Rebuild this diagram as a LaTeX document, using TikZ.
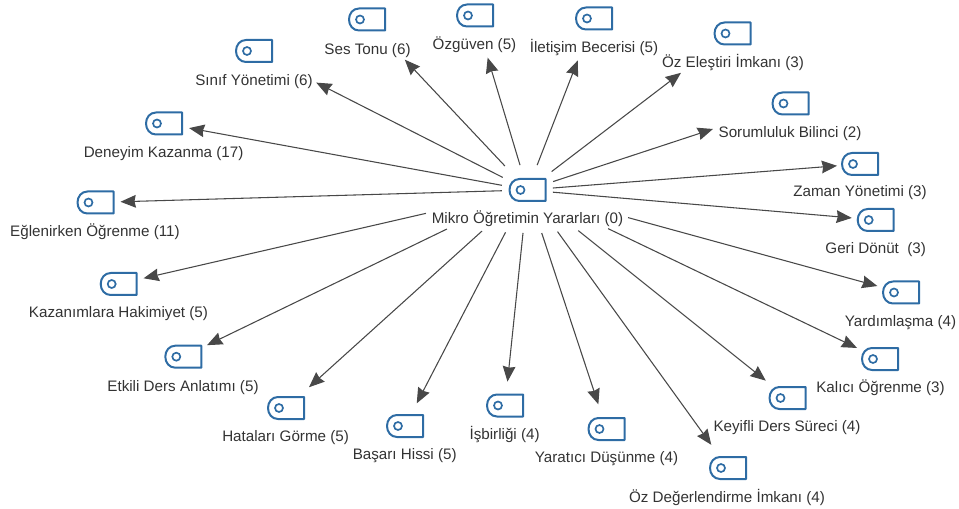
\documentclass[tikz,border=0pt]{standalone}
\usepackage{fontspec}
\setmainfont{Liberation Sans}
\usetikzlibrary{arrows.meta}
\definecolor{TagBlue}{RGB}{46, 108, 164}
\definecolor{ArrowGray}{RGB}{72, 72, 72}
\tikzset{
    tagbox/.style={rectangle, minimum width=27pt, minimum height=16.5pt, inner sep=0pt},
    taglabel/.style={font=\fontsize{11.4pt}{13pt}\selectfont, text=black!80, inner sep=0pt, anchor=base},
    link/.style={draw=ArrowGray, line width=0.8pt, -{Stealth[length=11.5pt, width=9.5pt, inset=1pt]}},
    tagicon/.pic={
        \draw[TagBlue, line width=1.5pt, line join=round]
            (18,-11) -- (18,11) -- (-8,11) .. controls (-14,11) and (-18,6) .. (-18,0)
            .. controls (-18,-6) and (-14,-11) .. (-8,-11) -- cycle;
        \draw[TagBlue, line width=1.25pt] (-7,0) circle (4);
    }
}

\begin{document}
\begin{tikzpicture}[x=0.75pt, y=-0.75pt]
    \path[use as bounding box] (0,0) rectangle (959,509);

    % Central tag with its label
    \node[tagbox] (hub) at (527.5,190) {};
    \pic at (hub) {tagicon};
    \node[taglabel] (lhub) at (527.5,223.3) {Mikro Öğretimin Yararları (0)};

    % Surrounding tags, labels and the arrows to them
    \foreach \n/\x/\y/\lx/\ly/\s/\e/\txt in {
        ses/367/19.5/367.5/54.5/33/55.2/Ses Tonu (6),
        ozguven/475/15.5/474.5/49.7/26/44/Özgüven (5),
        iletisim/594/18.5/594/52.3/26.7/45/İletişim Becerisi (5),
        elestiri/732.5/33.5/733/67.8/30.3/64.8/Öz Eleştiri İmkanı (3),
        sorumluluk/790.5/103.5/790/137.5/27/81.6/Sorumluluk Bilinci (2),
        zaman/860/164/860/196.7/25.5/23/Zaman Yönetimi (3),
        geri/875.7/220/875.7/253.3/25.5/24/Geri Dönüt\ \ (3),
        yardim/901/292.5/900.5/326/104.3/24.5/Yardımlaşma (4),
        kalici/880/359/880.5/392.7/89.4/25.5/Kalıcı Öğrenme (3),
        keyifli/787.5/398/787/431.7/65/27.8/Keyifli Ders Süreci (4),
        deger/728/468/727/502.7/51.3/28.6/Öz Değerlendirme İmkanı (4),
        yaratici/606.5/429/606.5/462.7/45.3/26/Yaratıcı Düşünme (4),
        isbirligi/505/405.5/504.6/439.3/43.2/24/İşbirliği (4),
        basari/405/426/404.7/459/47.7/25.5/Başarı Hissi (5),
        hata/286/408/285.6/441.7/61.3/31/Hataları Görme (5),
        etkili/183.3/356.7/183/391/89.5/26.4/Etkili Ders Anlatımı (5),
        kazanim/118.7/284/118.5/317.5/104.2/25.5/Kazanımlara Hakimiyet (5),
        eglence/95.5/202.5/95/236.7/25.6/25/Eğlenirken Öğrenme (11),
        deneyim/164/123.5/163.6/157.7/26/25.5/Deneyim Kazanma (17),
        sinif/254/51/254/85.5/27.8/69.8/Sınıf Yönetimi (6)} {
        \node[tagbox] (t\n) at (\x,\y) {};
        \pic at (t\n) {tagicon};
        \node[taglabel] (l\n) at (\lx,\ly) {\txt};
        \draw[link, shorten <={\s*0.75pt}, shorten >={\e*0.75pt}] (hub.center) -- (t\n.center);
    }
\end{tikzpicture}
\end{document}
